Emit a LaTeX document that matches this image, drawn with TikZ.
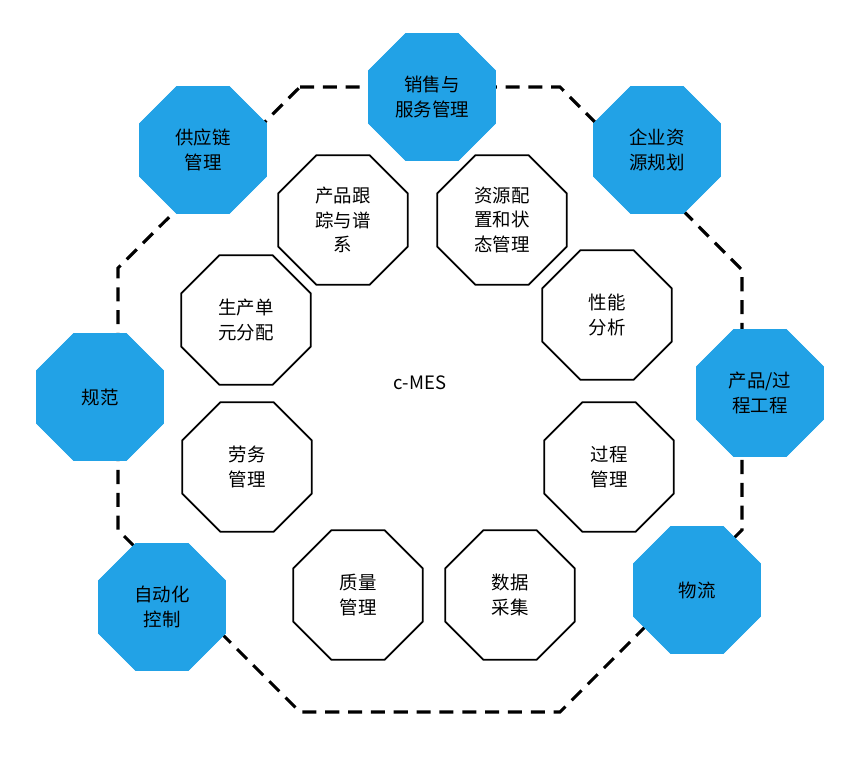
\documentclass[tikz,border=0pt]{standalone}
\usepackage{fontspec}
\setmainfont{Noto Sans CJK SC}
\usetikzlibrary{shapes.geometric}
\definecolor{mesblue}{HTML}{22A2E6}
\tikzset{
  outer/.style={regular polygon,regular polygon sides=8,minimum size=2.75cm,fill=mesblue,draw=mesblue,text=black,align=center,inner sep=0pt,font=\fontsize{10.5}{14}\selectfont},
  inner/.style={regular polygon,regular polygon sides=8,minimum size=2.8cm,fill=white,draw=black,line width=1pt,align=center,inner sep=0pt,font=\fontsize{10.5}{14}\selectfont},
  ring/.style={line width=1.8pt,dash pattern=on 8pt off 5pt}
}
\begin{document}
\begin{tikzpicture}[x=0.02cm,y=-0.02cm]
				\useasboundingbox (0,0) rectangle (860,774);
				% dashed frame
				\draw[ring] (300,87) -- (560,87) -- (742,270) -- (742,530) -- (560,712) -- (300,712) -- (118,530) -- (118,268) -- cycle;
				% outer functions
				\node[outer] (sales) at (432,97) {销售与\\服务管理};
				\node[outer] (supply) at (203,150) {供应链\\管理};
				\node[outer] (erp) at (657,150) {企业资\\源规划};
				\node[outer] (norm) at (100,397) {规范};
				\node[outer] (eng) at (760,393) {产品/过\\程工程};
				\node[outer] (auto) at (162,607) {自动化\\控制};
				\node[outer] (logi) at (697,590) {物流};
				% c-MES functions
				\node[inner] (track) at (343,220) {产品跟\\踪与谱\\系};
				\node[inner] (res) at (502,220) {资源配\\置和状\\态管理};
				\node[inner] (unit) at (246,320) {生产单\\元分配};
				\node[inner] (perf) at (607,315) {性能\\分析};
				\node[inner] (labor) at (247,467) {劳务\\管理};
				\node[inner] (proc) at (609,467) {过程\\管理};
				\node[inner] (qual) at (358,595) {质量\\管理};
				\node[inner] (data) at (510,595) {数据\\采集};
				\node[font=\fontsize{10.5}{14}\selectfont] (mes) at (420,383) {c-MES};
\end{tikzpicture}
\end{document}
